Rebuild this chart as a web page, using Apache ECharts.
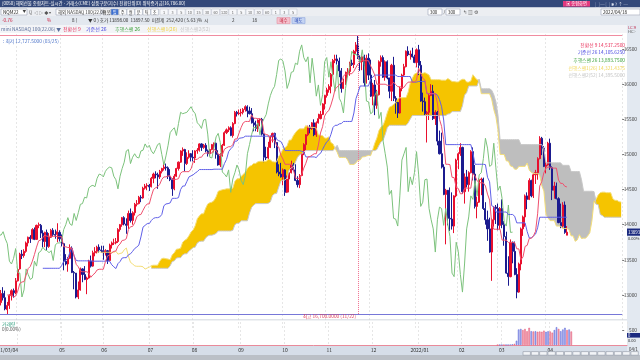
<!DOCTYPE html>
<html lang="ko"><head><meta charset="utf-8"><title>mini NASDAQ 100 일목균형표</title>
<script src="https://cdn.jsdelivr.net/npm/echarts@6.0.0/dist/echarts.min.js"></script>
<style>html,body{margin:0;padding:0;background:#fff;overflow:hidden}#chart{width:640px;height:360px}</style>
</head><body><div id="chart"></div>
<script>
const FONT = '"Noto Sans CJK KR","Noto Sans",sans-serif';
const firstDate = '2021-03-15';
const hiddenBars = 5;          // bars before the visible window (indicator warm-up)
const shift = 26;
const tenkanLen = 9, kijunLen = 26, spanBLen = 52;
const holidays = ['2021-04-02','2021-05-31','2021-07-05','2021-09-06','2021-11-25','2021-12-24','2022-01-17','2022-02-21','2022-04-15','2022-05-30'];

// daily bars [open, close, low, high]
const ohlc2021_03 = [
[13040,13120,12990,13150],[13130,13160,13060,13230],[13150,13200,12990,13270],[13190,12790,12770,13210],[12800,12890,12750,12940],
[12890,13020,12850,13070],[13020,12960,12920,13110],[12960,12800,12780,13060],[12790,12850,12727.5,12900],[12850,12990,12800,13010],
[12990,13060,12920,13080],[13060,13030,12960,13090],[13030,13200,13010,13240]];
const ohlc2021_04 = [
[13200,13360,13190,13380],[13370,13580,13360,13600],[13580,13560,13510,13640],[13560,13620,13530,13650],[13620,13740,13600,13760],
[13740,13820,13690,13830],[13820,13800,13740,13850],[13800,13930,13790,13950],[13930,13790,13780,13960],[13790,13990,13790,14000],
[13990,14000,13950,14030],[13990,13880,13810,14010],[13880,13760,13680,13920],[13760,13890,13680,13900],[13890,13690,13640,13930],
[13690,13820,13670,13880],[13820,13920,13810,13940],[13920,13860,13830,13950],[13860,13850,13800,13930],[13860,13900,13750,14020],
[13890,13800,13760,13920]];
const ohlc2021_05 = [
[13800,13730,13690,13860],[13730,13480,13350,13740],[13480,13440,13420,13580],[13440,13520,13330,13540],[13520,13660,13510,13720],
[13660,13320,13310,13690],[13320,13310,13080,13340],[13310,12970,12950,13300],[12970,13070,12940,13190],[13070,13370,13060,13390],
[13370,13290,13180,13380],[13290,13220,13210,13410],[13220,13240,13010,13260],[13240,13480,13230,13500],[13480,13410,13390,13560],
[13410,13600,13400,13630],[13600,13620,13550,13680],[13620,13680,13590,13700],[13680,13640,13600,13720],[13640,13630,13600,13700]];
const ohlc2021_06 = [
[13630,13600,13500,13700],[13600,13630,13560,13650],[13630,13490,13440,13640],[13490,13710,13480,13730],[13710,13740,13660,13760],
[13740,13740,13710,13800],[13740,13760,13720,13810],[13760,13930,13740,13950],[13930,14000,13900,14010],[14000,14100,13970,14110],
[14100,14010,13990,14120],[14010,13990,13870,14090],[13990,14160,13940,14200],[14160,14060,14030,14230],[14060,14170,14000,14190],
[14170,14290,14130,14310],[14290,14300,14260,14350],[14300,14390,14290,14410],[14390,14380,14320,14420],[14380,14520,14370,14540],
[14520,14550,14500,14580],[14550,14560,14490,14590]];
const ohlc2021_07 = [
[14560,14540,14480,14580],[14540,14660,14530,14680],[14660,14720,14590,14740],[14720,14710,14660,14760],[14710,14680,14510,14740],
[14680,14760,14650,14780],[14760,14800,14730,14810],[14800,14820,14770,14880],[14820,14810,14770,14870],[14810,14690,14650,14830],
[14690,14640,14620,14790],[14640,14510,14410,14660],[14510,14690,14490,14720],[14690,14800,14680,14810],[14800,14890,14770,14900],
[14890,15050,14880,15060],[15050,15070,14980,15100],[15070,14870,14760,15080],[14870,14960,14850,15030],[14960,15010,14940,15060],
[15010,14960,14900,15020]];
const ohlc2021_08 = [
[14960,14950,14900,15060],[14950,15050,14880,15060],[15050,15060,15010,15090],[15060,15150,15040,15160],[15150,15100,15050,15160],
[15100,15130,15080,15150],[15130,15050,15030,15160],[15050,15010,14970,15070],[15010,15070,14980,15080],[15070,15140,15060,15150],
[15140,15160,15030,15170],[15160,15000,14940,15170],[15000,14850,14840,15060],[14850,14980,14820,15020],[14980,15130,14970,15150],
[15130,15310,15120,15330],[15310,15350,15290,15370],[15350,15380,15320,15400],[15380,15270,15260,15400],[15270,15440,15240,15460],
[15440,15600,15430,15620],[15600,15580,15540,15620]];
const ohlc2021_09 = [
[15580,15590,15560,15640],[15590,15600,15540,15650],[15600,15640,15570,15660],[15640,15680,15610,15700],[15680,15620,15530,15700],
[15620,15580,15570,15680],[15580,15450,15440,15660],[15450,15420,15330,15520],[15420,15370,15330,15480],[15370,15490,15320,15500],
[15490,15500,15400,15510],[15500,15290,15270,15520],[15290,14960,14890,15300],[14960,14950,14920,15110],[14950,15100,14930,15180],
[15100,15250,15090,15270],[15250,15300,15170,15310],[15300,15170,15090,15310],[15170,14750,14730,15170],[14750,14720,14690,14860],
[14720,14680,14670,14880]];
const ohlc2021_10 = [
[14680,14780,14560,14800],[14780,14460,14410,14790],[14460,14650,14450,14700],[14650,14740,14460,14750],[14740,14850,14730,14910],
[14850,14780,14760,14880],[14780,14630,14620,14860],[14630,14570,14530,14690],[14570,14700,14520,14720],[14700,15010,14690,15020],
[15010,15140,14990,15160],[15140,15280,15060,15290],[15280,15390,15260,15410],[15390,15370,15300,15420],[15370,15450,15350,15460],
[15450,15280,15260,15500],[15280,15450,15250,15470],[15450,15510,15440,15580],[15510,15570,15500,15620],[15570,15720,15560,15730],
[15720,15840,15640,15850]];
const ohlc2021_11 = [
[15840,15920,15810,15950],[15920,15970,15880,16000],[15970,16140,15870,16160],[16140,16340,16120,16360],[16340,16360,16300,16420],
[16360,16330,16280,16420],[16330,16190,16100,16380],[16190,15940,15880,16230],[15940,16030,15930,16080],[16030,16170,15990,16180],
[16170,16180,16100,16230],[16180,16300,16120,16320],[16300,16280,16260,16350],[16280,16470,16230,16490],[16470,16560,16430,16600],
[16560,16380,16360,16700],[16380,16320,16190,16410],[16320,16390,16200,16410],[16390,16020,15970,16420],[16020,16370,16010,16420],
[16370,16130,16060,16440]];
const ohlc2021_12 = [
[16130,15830,15820,16350],[15830,15990,15700,16020],[15990,15700,15560,16060],[15700,15850,15650,15920],[15850,16320,15840,16340],
[16320,16380,16250,16410],[16380,16100,16090,16410],[16100,16320,16050,16340],[16320,16090,16070,16340],[16090,15900,15800,16040],
[15900,16270,15760,16290],[16270,15800,15760,16390],[15800,15740,15580,15830],[15740,15590,15520,15700],[15590,15940,15580,15960],
[15940,16130,15900,16150],[16130,16250,16110,16290],[16250,16470,16240,16480],[16470,16420,16400,16540],[16420,16430,16350,16480],
[16430,16390,16380,16520],[16390,16310,16300,16420]];
const ohlc2022_01 = [
[16310,16490,16240,16510],[16490,16270,16130,16560],[16270,15760,15750,16330],[15760,15750,15610,15880],[15750,15580,15560,15810],
[15580,15600,15170,15620],[15600,15840,15490,15860],[15840,15900,15830,16000],[15900,15510,15490,15990],[15510,15600,15420,15630],
[15600,15190,15130,15620],[15190,15010,15000,15340],[15010,14820,14800,15310],[14820,14430,14420,14860],[14430,14490,13720,14510],
[14490,14090,13990,14340],[14090,14080,13910,14530],[14080,13980,13930,14460],[13980,14410,13880,14420],[14410,14920,14390,14940]];
const ohlc2022_02 = [
[14920,15010,14790,15030],[15010,15100,14980,15160],[15100,14470,14440,15110],[14470,14680,14300,14730],[14680,14570,14530,14780],
[14570,14740,14470,14760],[14740,15040,14730,15060],[15040,14720,14630,15100],[14720,14260,14230,14850],[14260,14320,14090,14400],
[14320,14640,14310,14660],[14640,14650,14420,14670],[14650,14230,14210,14670],[14230,14070,14000,14320],[14070,13940,13770,14200],
[13940,13610,13600,14100],[13610,14070,13200,14090],[14070,14250,13970,14260],[14250,14230,14010,14280]];
const ohlc2022_03 = [
[14230,13990,13920,14300],[13990,14230,13930,14250],[14230,14000,13950,14360],[14000,13830,13700,14050],[13830,13310,13300,13900],
[13310,13260,13130,13550],[13260,13750,13250,13790],[13750,13620,13450,13760],[13620,13290,13280,13760],[13290,13040,12951.25,13380],
[13040,13440,13030,13460],[13440,13940,13350,13960],[13940,14110,13840,14130],[14110,14410,13970,14430],[14410,14360,14220,14460],
[14360,14630,14350,14660],[14630,14410,14390,14640],[14410,14710,14380,14730],[14710,14740,14580,14780],[14740,14940,14640,14960],
[14940,15230,14930,15260],[15230,15090,14990,15250],[15090,14830,14820,15120]];
const ohlc2022_04 = [
[14830,14850,14730,14930],[14850,15160,14840,15180],[15160,14810,14780,15225],[14810,14490,14350,14830],[14490,14550,14370,14610],
[14550,14370,14360,14600],[14370,14030,14020,14390],[14030,13980,13950,14300],[13980,14280,13960,14320],[14280,13890,13870,14330],
[13850,13893.75,13849.5,13980]];

// volume of the NQM22 contract (from 2022-02-25)
const volumeFrom = '2022-02-25';
const volumeValues = [2,3,3,4,5,6,15,25,40,150,540,560,520,560,480,600,480,470,480,460,470,460,500,460,480,470,430,520,620,560,480,540,600,520,540,470];

// legend texts
const legendNames  = ['전환선 9','기준선 26','후행스팬 26','선행스팬1(26)','선행스팬2(52)'];
const legendValues = ['14,537.2500','14,105.6250','13,893.7500','14,321.4375','14,395.5000'];

// ---------------------------------------------------------------
const candles = [].concat(ohlc2021_03,ohlc2021_04,ohlc2021_05,ohlc2021_06,ohlc2021_07,ohlc2021_08,ohlc2021_09,
  ohlc2021_10,ohlc2021_11,ohlc2021_12,ohlc2022_01,ohlc2022_02,ohlc2022_03,ohlc2022_04);
const n = candles.length;
function tradingDays(start, count){
  const out=[]; const d=new Date(start+'T00:00:00Z');
  while(out.length<count){
    const wd=d.getUTCDay(); const s=d.toISOString().slice(0,10);
    if(wd!==0 && wd!==6 && holidays.indexOf(s)<0) out.push(s);
    d.setUTCDate(d.getUTCDate()+1);
  }
  return out;
}
const dates = tradingDays(firstDate, n+shift);
const total = dates.length;
function midRange(i,len){
  if(i<len-1) return null;
  let hi=-Infinity, lo=Infinity;
  for(let k=i-len+1;k<=i;k++){ if(candles[k][3]>hi) hi=candles[k][3]; if(candles[k][2]<lo) lo=candles[k][2]; }
  return (hi+lo)/2;
}
const tenkan=new Array(total).fill('-'), kijun=new Array(total).fill('-'), spanA=new Array(total).fill('-'),
      spanB=new Array(total).fill('-'), chikou=new Array(total).fill('-');
for(let i=0;i<n;i++){
  const t=midRange(i,tenkanLen), k=midRange(i,kijunLen), b=midRange(i,spanBLen);
  if(t!==null) tenkan[i]=t;
  if(k!==null) kijun[i]=k;
  if(t!==null && k!==null) spanA[i+shift]=(t+k)/2;
  if(b!==null) spanB[i+shift]=b;
  if(i>=shift) chikou[i-shift]=candles[i][1];
}
const cloudBase=[], cloudBull=[], cloudBear=[];
for(let i=0;i<total;i++){
  const a=spanA[i], b=spanB[i];
  if(a==='-'||b==='-'){ cloudBase.push('-'); cloudBull.push('-'); cloudBear.push('-'); continue; }
  cloudBase.push(Math.min(a,b)); cloudBull.push(a>=b?a-b:0); cloudBear.push(b>a?b-a:0);
}
const candleData = dates.map((d,i)=> i<n ? candles[i] : '-');
const volStart = dates.indexOf(volumeFrom);
const UP='#E8102E', DOWN='#1B1B8F';
const volumeData = dates.map((d,i)=>{
  const j=i-volStart;
  if(i>=n || j<0 || j>=volumeValues.length) return '-';
  const up = candles[i][1]>=candles[i][0];
  return {value:volumeValues[j], itemStyle:{color: up?'#F6A9B9':'#A8AEEE', borderColor: up?'#E0506E':'#5A66D6', borderWidth:0.5}};
});
// visible extremes
let hiIdx=hiddenBars, loIdx=hiddenBars;
for(let i=hiddenBars;i<n;i++){ if(candles[i][3]>candles[hiIdx][3]) hiIdx=i; if(candles[i][2]<candles[loIdx][2]) loIdx=i; }
const hiVal=candles[hiIdx][3], loVal=candles[loIdx][2];
const monthStart = dates.map((d,i)=> i>0 && i<n && d.slice(0,7)!==dates[i-1].slice(0,7));
const fmt4 = v => v.toLocaleString('en-US',{minimumFractionDigits:4,maximumFractionDigits:4});
const mmdd = s => s.slice(5,7)+'/'+s.slice(8,10);

const line = (name,data,color,extra)=>Object.assign({name,type:'line',data,showSymbol:false,symbol:'none',silent:true,
  lineStyle:{color,width:1},itemStyle:{color},z:3},extra||{});

const option = {
  animation:false,
  backgroundColor:'#ffffff',
  textStyle:{fontFamily:FONT},
  grid:[{left:0,top:14,width:627,height:316},{left:0,top:322,width:627,height:23}],
  xAxis:[
    {type:'category',gridIndex:0,data:dates,min:hiddenBars,boundaryGap:true,
     axisLine:{show:false},axisTick:{show:false},axisLabel:{show:false},
     splitLine:{show:true,interval:(i)=>monthStart[i],lineStyle:{color:'#E6E6E6',type:[2,2],width:1}}},
    {type:'category',gridIndex:1,data:dates,min:hiddenBars,boundaryGap:true,
     axisLine:{show:true,lineStyle:{color:'#E98A9A',width:1}},axisTick:{show:false},
     axisLabel:{interval:(i)=>monthStart[i] && i-hiddenBars>15,margin:2.5,fontSize:5,color:'#333',fontFamily:FONT,
       formatter:(v)=>{const p=v.split('-'); return p[1]==='01'? p[0]+'/'+p[1] : p[1];}},
     splitLine:{show:true,interval:(i)=>monthStart[i],lineStyle:{color:'#E6E6E6',type:[2,2],width:1}}}
  ],
  yAxis:[
    {type:'value',gridIndex:0,position:'right',min:12500,max:17000,interval:500,scale:true,
     splitLine:{show:false},axisLine:{show:false},axisTick:{show:true,length:2,lineStyle:{color:'#777'}},
     axisLabel:{margin:1.5,fontSize:4.8,color:'#444',fontFamily:FONT,formatter:v=>(v<=12500||v>=17000)?'':String(v)}},
    {type:'value',gridIndex:1,position:'right',min:0,max:800,interval:500,
     splitLine:{show:false},axisLine:{show:false},axisTick:{show:false},
     axisLabel:{margin:2,fontSize:4.8,color:'#444',fontFamily:FONT,formatter:v=>v===500?'500':''}}
  ],
  series:[
    line('cloudBase',cloudBase,'#000',{stack:'cloud',lineStyle:{width:0,opacity:0},z:1}),
    line('cloudBull',cloudBull,'#F5C400',{stack:'cloud',lineStyle:{width:0,opacity:0},areaStyle:{color:'#F5C400',opacity:1},z:1}),
    line('cloudBear',cloudBear,'#BDBDBD',{stack:'cloud',lineStyle:{width:0,opacity:0},areaStyle:{color:'#BEBEBE',opacity:1},z:1}),
    {name:'mini NASDAQ 100(22.06)',type:'candlestick',data:candleData,barWidth:'76%',silent:true,z:2,
     itemStyle:{color:UP,color0:DOWN,borderColor:UP,borderColor0:DOWN,borderWidth:1},
     markLine:{silent:true,symbol:['none','none'],label:{show:false},animation:false,
       data:[
         {yAxis:hiVal,lineStyle:{color:'#F08CA0',width:1,type:'solid'}},
         {yAxis:loVal,lineStyle:{color:'#7777D8',width:1,type:'solid'}},
         [{coord:[dates[hiIdx],hiVal],lineStyle:{color:'#F07090',width:1,type:'dotted'}},{coord:[dates[hiIdx],loVal]}]
       ]}},
    line('선행스팬1',spanA,'#F4DE78',{z:3}),
    line('선행스팬2',spanB,'#C8C8C8',{z:3}),
    line('후행스팬',chikou,'#7CC27C',{z:4}),
    line('기준선',kijun,'#6060E8',{z:5}),
    line('전환선',tenkan,'#F0506E',{z:5}),
    {name:'거래량',type:'bar',xAxisIndex:1,yAxisIndex:1,data:volumeData,barWidth:'72%',silent:true}
  ]
};

const chart = echarts.init(document.getElementById('chart'),null,{renderer:'canvas'});
chart.setOption(option);

// ---- annotations / window chrome ----
const G=[];
function R(x,y,w,h,fill,stroke,z){G.push({type:'rect',silent:true,z:z===undefined?50:z,shape:{x,y,width:w,height:h},style:{fill,stroke:stroke||null,lineWidth:stroke?0.6:0}});}
function T(x,y,text,color,o){o=o||{};G.push({type:'text',silent:true,z:o.z===undefined?60:o.z,x,y,style:{text,fill:color,fontSize:o.size||5,fontFamily:FONT,
  fontWeight:o.bold?'bold':'normal',align:o.align||'left',textAlign:o.align||'left',verticalAlign:o.va||'middle',textVerticalAlign:o.va||'middle'}});}

// title bar
R(0,0,640,7.5,'#33487A');
T(2,3.8,'[0050] 해외선물 종합차트-실시간 - 거래소(CME) 상품구분(지수) 전환단위(D) 위탁증거금[16,786.00]','#FFFFFF',{size:4.4});
R(563,1,27,5.6,'#E2397E'); T(576.5,3.9,'▣ 종합화면','#FFFFFF',{size:4.2,align:'center'});
T(595,3.9,'▢ ─ ▢ ✱ ? ↑ ─','#DDE3F0',{size:4.4});
// toolbar
R(0,7.5,640,8.5,'#ECEEF2');
R(1,9,26,6,'#FFFFFF','#9AA3B5'); T(3,12.1,'NQM22','#222',{size:4.6}); T(22.5,12.1,'▼','#444',{size:3.6});
T(29,12.1,'Q  ◁ ▷ ◆ ▾','#555',{size:4.2});
R(56,9,45,6,'#FFFFFF','#9AA3B5'); T(58,12.1,'해외 NASDAQ 100(22.06)','#333',{size:4.4});
const tb=['연봉','일','주','월','분','틱','초'];
tb.forEach((s,i)=>{ const x=103+i*8; R(x,9,7.4,6,i===1?'#3C6FD1':'#FFFFFF','#A8B0C0'); T(x+3.7,12.1,s,i===1?'#fff':'#333',{size:4.2,align:'center'}); });
['1','3','5','10','15','30','60','120','1','5','10','30','60','1','3','5'].forEach((s,i)=>{const x=160+i*8.6; R(x,9,8,6,'#F6F7FA','#C2C8D2'); T(x+4,12.1,s,'#666',{size:3.8,align:'center'});});
R(428,9,14,6,'#FFFFFF','#9AA3B5'); T(430,12.1,'300','#222',{size:4.4}); T(443.5,12.1,'/','#444',{size:4.4});
R(446,9,14,6,'#FFFFFF','#9AA3B5'); T(448,12.1,'300','#222',{size:4.4});
T(463,12.1,'↰ ▥ ⚙','#555',{size:4.6});
R(601,9,39,6,'#FFFFFF','#9AA3B5'); T(603,12.1,'2022/04/18','#222',{size:4.6});
// info row
R(0,16,640,9,'#E3E8EF');
T(2,20.5,'-0.76','#D02040',{size:4.6}); T(47,20.5,'%','#D02040',{size:4.6});
T(72,20.5,'8 (','#333',{size:4.6});
T(88,20.5,'▼ 0 ) 호가 13898.00  13897.50  미결제  252,420 ( 5.63 )%  시','#333',{size:4.6});
T(232,20.5,'2','#333',{size:4.6}); T(252,20.5,'18','#333',{size:4.6});
R(277,17.6,13,6,'#F4C2CE','#E58DA0'); T(283.5,20.6,'매수','#C0203A',{size:4.4,align:'center'});
R(292,17.6,13,6,'#C4D3F2','#8EA6DD'); T(298.5,20.6,'매도','#2040B0',{size:4.4,align:'center'});
// legend row
R(0,25,627,8,'#F3F4F7');
T(1,29,'mini NASDAQ 100(22.06) ▼','#5A6E9A',{size:4.8});
T(63,29,'전환선 9','#E8305A',{size:5}); T(86,29,'기준선 26','#4848E0',{size:5});
T(115,29,'후행스팬 26','#3BA03B',{size:5}); T(147,29,'선행스팬1(26)','#F0D040',{size:5}); T(180,29,'선행스팬2(52)','#C6C6C6',{size:5});
// right axis strip + bottom strips
R(627,25,13,330,'#E3E9F1',null,-1);
T(628,27.6,'LC:9','#C03050',{size:4});
T(628,31.8,'HC:-','#555',{size:4});
R(0,319.4,627,0.8,'#C4CAD4',null,1);
R(0,345.6,627,9.4,'#D6DEE9',null,-1);
R(0,355,640,5,'#BBC0C7',null,50);
for(let i=0;i<14;i++){ R(523+i*8.3,351.6,7.4,3.6,'#F2F4F7','#8E96A3',55); }
T(629,349.6,'04/1','#333',{size:4.4});
T(18,350.3,'2021/03/04','#333',{size:5,align:'right',z:5});

// price annotations via the chart scales
const hiPx = chart.convertToPixel({xAxisIndex:0,yAxisIndex:0},[hiIdx,hiVal]);
const loPx = chart.convertToPixel({xAxisIndex:0,yAxisIndex:0},[loIdx,loVal]);
T(3,hiPx[1]+6.5,': 최저 '+fmt4(loVal)+' ('+mmdd(dates[loIdx])+')','#4D74C9',{size:4.8,z:6});
T(hiPx[0]-2,loPx[1]+2.6,'최고 '+fmt4(hiVal)+' ('+mmdd(dates[hiIdx])+')','#E0405A',{size:4.8,align:'right',z:6});
const legendColors=['#E8305A','#4848E0','#3BA03B','#F2D658','#C4C4C4'];
legendNames.forEach((nm,i)=>T(625,45+7.6*i,nm+' '+legendValues[i],legendColors[i],{size:4.8,align:'right',z:6}));
const lastClose=candles[n-1][1];
const yc = chart.convertToPixel({yAxisIndex:0},lastClose);
R(627,yc-3.6,13,7.2,'#1B2A80',null,55); T(628,yc,String(lastClose),'#FFFFFF',{size:4.4});
T(628,yc+6.2,'0.00%','#333',{size:4});
const yv = chart.convertToPixel({yAxisIndex:1},0);
R(627,yv-12,13,4.6,'#1B2A80',null,55); T(628,yv-9.7,'0','#FFFFFF',{size:4.2});
T(628,yv-5,'0.00','#333',{size:4});
T(2,324,'거래량','#2E9E7E',{size:4.8,z:6});
T(2,329.5,'0(0.00%)','#555',{size:4.6,z:6});

chart.setOption({graphic:{elements:G}});
</script></body></html>
